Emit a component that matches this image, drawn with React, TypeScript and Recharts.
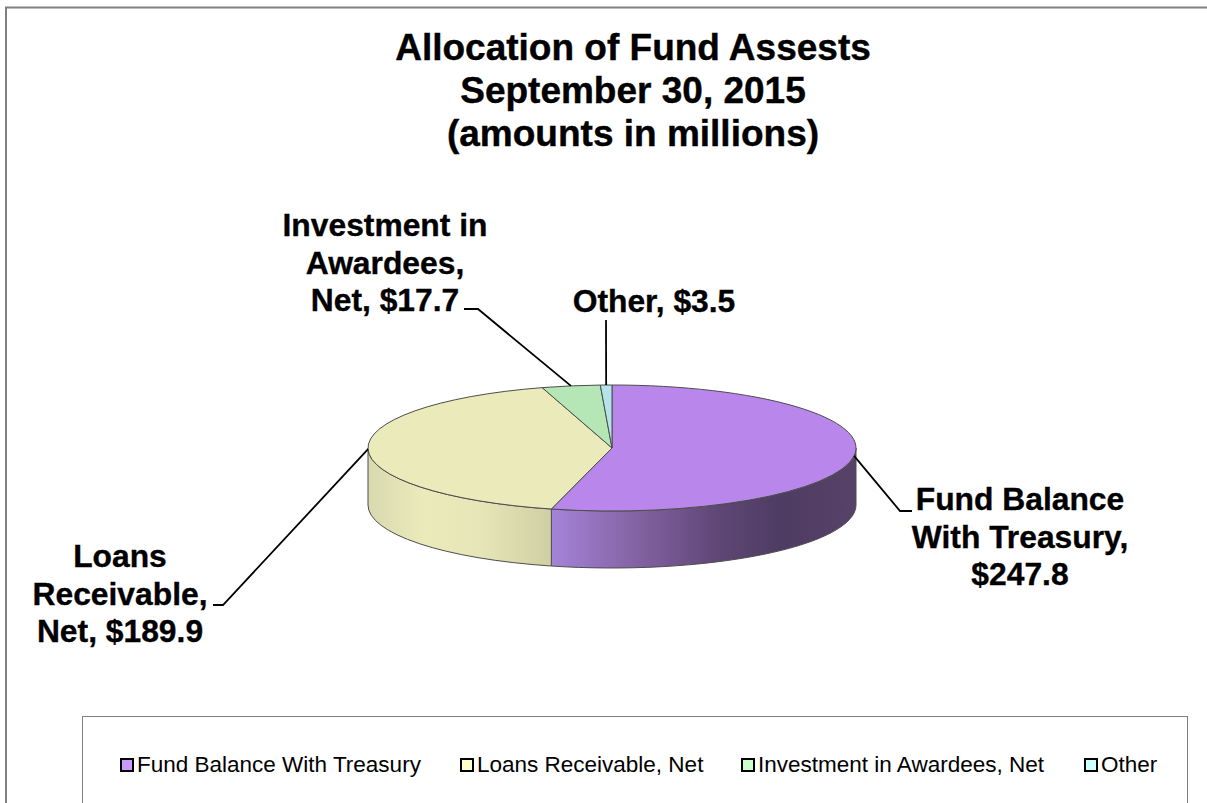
import { PieChart, Pie, Legend } from 'recharts'

const categories = ['Fund Balance With Treasury', 'Loans Receivable, Net', 'Investment in Awardees, Net', 'Other']
const amounts = [247.8, 189.9, 17.7, 3.5]
const labelLines = [
  ['Fund Balance', 'With Treasury,', '$247.8'],
  ['Loans', 'Receivable,', 'Net, $189.9'],
  ['Investment in', 'Awardees,', 'Net, $17.7'],
  ['Other, $3.5'],
]
const titleLines = ['Allocation of Fund Assests', 'September 30, 2015', '(amounts in millions)']

const topColors = ['#B987EC', '#EAEABB', '#B5E6B5', '#B5E3EA']
const wallFills = ['url(#wallPurple)', 'url(#wallYellow)', 'none', 'none']
const legendColors = ['#CC99FF', '#FFFFCC', '#CCFFCC', '#CCFFFF']

// label layout: text centre, first baseline, leader elbow and leader end
const labelCenters = [1020, 120, 385, 654]
const labelBaselines = [510, 567, 236, 312]
const leaderElbows = [[900, 511], [223, 605], [478, 309], null]
const leaderEnds = [[912, 511], [213, 605], [464, 309], [606, 320]]
const legendLefts = [37, 377, 658, 1001]

const PIE_CX = 612
const PIE_CY = 448
const RADIUS_X = 244
const SQUASH = 63 / 244
const DEPTH = 57
const FONT = '"Liberation Sans", Arial, sans-serif'

const data = categories.map((name, i) => ({ name, value: amounts[i] }))

function ellipsePoint(cx: number, cy: number, r: number, angle: number) {
  const rad = (angle * Math.PI) / 180
  return [cx + r * Math.cos(rad), cy - r * SQUASH * Math.sin(rad)]
}

// 楕円の上面と手前の側面
function Slice3D(props: any) {
  const { cx, cy, outerRadius: r, startAngle, endAngle, name } = props
  const i = categories.indexOf(name)
  const ry = r * SQUASH
  const [sx, sy] = ellipsePoint(cx, cy, r, startAngle)
  const [ex, ey] = ellipsePoint(cx, cy, r, endAngle)
  const large = Math.abs(startAngle - endAngle) > 180 ? 1 : 0

  const wallStart = Math.min(startAngle, 0)
  const wallEnd = Math.max(endAngle, -180)
  let wall = null
  if (wallStart > wallEnd) {
    const [ax, ay] = ellipsePoint(cx, cy, r, wallStart)
    const [bx, by] = ellipsePoint(cx, cy, r, wallEnd)
    wall = (
      <path
        d={`M${ax},${ay} A${r},${ry} 0 0 1 ${bx},${by} L${bx},${by + DEPTH} A${r},${ry} 0 0 0 ${ax},${ay + DEPTH} Z`}
        fill={wallFills[i]}
        stroke="#4d4d4d"
        strokeWidth={1}
      />
    )
  }
  return (
    <g>
      {wall}
      <path
        d={`M${cx},${cy} L${sx},${sy} A${r},${ry} 0 ${large} 1 ${ex},${ey} Z`}
        fill={topColors[i]}
        stroke="#4d4d4d"
        strokeWidth={1}
      />
    </g>
  )
}

function SliceLabel(props: any) {
  const { cx, cy, outerRadius, midAngle, name } = props
  const i = categories.indexOf(name)
  const [ax, ay] = ellipsePoint(cx, cy, outerRadius, midAngle)
  const elbow = leaderElbows[i]
  const end = leaderEnds[i]
  const pts = elbow ? [[ax, ay], elbow, end] : [[ax, ay], end]
  return (
    <g>
      <polyline points={pts.map((p) => p.join(',')).join(' ')} fill="none" stroke="#000" strokeWidth={1.8} />
      {labelLines[i].map((line, k) => (
        <text
          key={line}
          x={labelCenters[i]}
          y={labelBaselines[i] + k * 37.5}
          textAnchor="middle"
          fontFamily={FONT}
          fontSize={31.8}
          fontWeight="bold"
          fill="#000"
          stroke="#000"
          strokeWidth={0.35}
        >
          {line}
        </text>
      ))}
    </g>
  )
}

function LegendBox() {
  return (
    <div style={{ position: 'relative', width: 1106, height: 90, fontFamily: FONT, fontSize: 22.5, color: '#000' }}>
      {categories.map((name, i) => (
        <div key={name} style={{ position: 'absolute', left: legendLefts[i], top: 35, display: 'flex', alignItems: 'center', whiteSpace: 'nowrap' }}>
          <span style={{ width: 10, height: 10, border: '2px solid #000', background: legendColors[i], marginRight: 3, boxSizing: 'content-box' }} />
          {name}
        </div>
      ))}
    </div>
  )
}

export default function App() {
  return (
    <div style={{ position: 'absolute', left: 0, top: 0, width: 1207, height: 803, overflow: 'hidden', background: '#fff' }}>
      <PieChart width={1207} height={803} margin={{ top: 0, right: 0, bottom: 0, left: 0 }}>
        <defs>
          <linearGradient id="wallPurple" gradientUnits="userSpaceOnUse" x1={552} y1={0} x2={856} y2={0}>
            <stop offset="0" stopColor="#A583D8" />
            <stop offset="0.3" stopColor="#80609F" />
            <stop offset="0.55" stopColor="#5E4675" />
            <stop offset="0.75" stopColor="#4F3C63" />
            <stop offset="1" stopColor="#574268" />
          </linearGradient>
          <linearGradient id="wallYellow" gradientUnits="userSpaceOnUse" x1={368} y1={0} x2={552} y2={0}>
            <stop offset="0" stopColor="#D9D9AF" />
            <stop offset="0.3" stopColor="#EAEABB" />
            <stop offset="0.6" stopColor="#E6E6B8" />
            <stop offset="1" stopColor="#CFCFA4" />
          </linearGradient>
        </defs>
        <line x1={6} y1={7} x2={6} y2={803} stroke="#808080" strokeWidth={2} />
        <line x1={5} y1={7.5} x2={1207} y2={7.5} stroke="#808080" strokeWidth={2} />
        {titleLines.map((line, k) => (
          <text
            key={line}
            x={633}
            y={60 + k * 43}
            textAnchor="middle"
            fontFamily={FONT}
            fontSize={37}
            fontWeight="bold"
            fill="#000"
            stroke="#000"
            strokeWidth={0.4}
          >
            {line}
          </text>
        ))}
        <Pie
          data={data}
          dataKey="value"
          nameKey="name"
          cx={PIE_CX}
          cy={PIE_CY}
          outerRadius={RADIUS_X}
          innerRadius={0}
          startAngle={90}
          endAngle={-270}
          paddingAngle={0}
          shape={Slice3D}
          label={SliceLabel}
          labelLine={false}
          isAnimationActive={false}
        />
        <Legend
          content={LegendBox}
          wrapperStyle={{ left: 82, top: 716, width: 1106, height: 90, border: '1px solid #808080', boxSizing: 'border-box', margin: 0 }}
        />
      </PieChart>
    </div>
  )
}
